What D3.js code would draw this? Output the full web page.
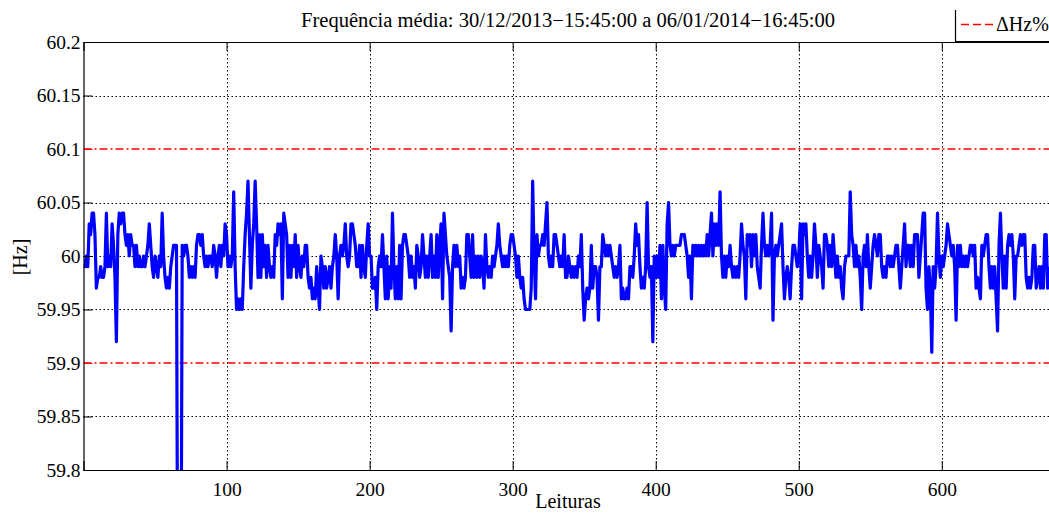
<!DOCTYPE html>
<html>
<head>
<meta charset="utf-8">
<script src="https://cdn.jsdelivr.net/npm/d3@7"></script>
<style>
  html, body { margin: 0; padding: 0; background: #fff; }
  svg { display: block; }
  text { font-family: "Liberation Serif", "DejaVu Serif", serif; fill: #000; }
</style>
</head>
<body>
<svg id="chart" width="1049" height="514"></svg>
<script>
// ---------------- DATA ----------------
const titleText = "Frequência média: 30/12/2013\u221215:45:00 a 06/01/2014\u221216:45:00";
const xLabel = "Leituras";
const yLabel = "[Hz]";
const legendLabel = "\u0394Hz%";
const xTicks = [100, 200, 300, 400, 500, 600];
const yTicks = [59.8, 59.85, 59.9, 59.95, 60, 60.05, 60.1, 60.15, 60.2];
const yTickLabels = ["59.8", "59.85", "59.9", "59.95", "60", "60.05", "60.1", "60.15", "60.2"];
const limitLines = [59.9, 60.1];
const xDomain = [0, 676];
const yDomain = [59.8, 60.2];
// Frequency readings [Hz], one per reading (index = reading number)
const freq = [
59.99,59.99,60,59.99,60.03,60.02,60.04,60.04,60.02,59.97,59.98,
59.98,59.99,59.98,59.98,59.99,60.04,59.99,60,59.99,60.03,
60.01,59.98,59.92,60.02,60.04,60.03,60.04,60.04,60.02,60.01,
60.02,60,60.02,60.01,60.01,59.99,60.01,59.99,60,59.99,
59.99,60,59.99,60,60.01,60.03,60.01,59.99,59.98,60,
59.99,59.98,60,59.99,60.04,60,59.98,59.97,59.98,59.97,
59.99,60,60.01,60.01,60.01,59.6,59.6,59.6,60.01,60,
60.01,60.01,60,59.98,59.99,59.98,59.99,59.98,60.01,60.02,
60.02,60.01,60.02,60,59.99,60,59.99,60,60,59.99,
60.01,60,59.98,60,60.01,59.99,60.01,60,60.03,60.02,
59.99,60,59.99,60,60.06,59.99,59.95,59.96,59.95,59.96,
59.95,59.99,60.02,60.04,60.07,60.02,59.97,60.01,60.03,60.07,
60.03,59.98,60.02,59.98,60.02,59.99,60.01,59.98,60.01,59.99,
59.98,59.99,59.98,60.02,60.01,60.03,60.02,60.03,59.96,60.04,
60.03,60.02,59.98,60.01,59.98,60.01,59.99,60.02,59.98,60.01,
59.99,59.98,60,59.99,60.01,60.01,59.98,59.97,59.98,59.96,
59.97,59.96,59.99,59.97,59.95,60,59.99,59.97,59.99,59.97,
59.98,59.99,59.97,59.99,60,60.02,60,59.96,60,60.01,
60,60.01,60.03,60,59.99,60,60.03,60.03,60.02,60.01,
59.99,59.99,60.01,59.98,60.01,59.99,59.98,60.01,60.03,60,
60,59.97,59.97,59.98,59.95,59.99,60,59.99,60.02,59.99,
59.96,60,59.96,59.99,59.97,60.04,59.99,59.96,59.99,59.96,
60.01,59.96,60.01,60.02,60.02,60.01,60,59.98,60,59.98,
59.99,59.97,60.01,60,59.98,59.99,60.02,60,59.98,60,
59.98,60,60.02,59.98,60,59.98,60.02,59.98,60.01,60.03,
59.96,60.04,60.02,60,59.99,59.98,59.93,59.99,60.01,59.99,
60.01,59.99,60,59.97,59.98,59.97,59.98,60.02,60.02,60,
59.98,60.02,59.98,60,59.98,60,59.98,60,59.99,59.97,
60.02,59.99,59.98,59.99,59.98,60,59.99,60,60.01,60.03,
60.01,60,59.99,60,59.99,60,59.99,60.01,60.02,60.02,
60.01,60,59.98,60,59.98,59.97,59.98,59.96,59.95,59.95,
59.95,59.95,59.97,60.07,60,59.96,60.02,60,60.01,60.01,
60.02,60.01,60.03,60.05,60,59.99,60,59.99,60.02,60.02,
60.01,60,59.99,60,59.99,60.02,59.98,59.98,60,59.99,
59.98,59.99,59.98,59.99,59.98,60,59.99,60.02,59.97,59.94,
59.96,59.97,59.96,59.97,60.01,59.97,59.99,59.99,59.98,59.94,
59.99,59.99,60.02,60.01,60,60.01,60,60.01,60,59.99,
59.98,59.99,59.98,59.99,60.01,59.96,59.97,59.96,59.96,59.97,
59.96,59.99,59.99,59.98,60,60.03,60.01,60.02,59.99,59.97,
59.98,59.97,59.99,60.05,59.99,59.98,59.99,59.92,60,59.98,
60,59.98,60.01,59.96,60.01,59.97,59.95,60.03,60.05,60.01,
60,60.01,60,60.01,60.01,60.01,60.01,60.02,60.02,60.02,
60.01,60,59.98,60,59.96,60.01,60,60.01,60,60.01,
60,60.01,60,60.01,60,60.02,60,60.02,60.04,60,
60.03,60.01,60.03,60.01,60.06,60,59.98,60,59.98,60,
59.99,60.01,59.99,59.98,59.99,59.98,59.99,59.98,60,60.03,
60.01,60,59.96,60.02,60.01,60.02,59.99,60.02,60,60.02,
59.99,59.98,59.97,60.01,60.04,60.01,60,60.01,60,60.01,
60.04,59.94,60,60.01,60,60.01,60.02,60.03,59.99,59.96,
59.98,59.99,59.98,59.96,59.99,60.01,60.01,60,59.99,60,
60.03,59.96,60.03,60.02,60.03,60,59.98,60,59.98,60,
60.03,60.01,59.98,60.01,60,59.99,59.97,60.02,60.02,60.01,
59.99,60.01,59.99,60.02,60,59.98,60,59.98,59.99,59.97,
59.96,59.99,60,60,60,60.06,60.02,60.01,59.99,60.01,
59.99,60,59.98,59.95,60,60.01,59.99,60.02,59.99,59.97,
59.99,60.01,60.02,60.01,60,60.02,60.02,59.99,59.98,59.99,
59.98,60,60,59.99,60,59.99,60,60.01,60.01,59.99,
59.97,59.99,60.01,60.03,59.99,60.01,60.01,59.99,60.01,59.99,
60.02,60.02,60.02,59.98,60,60.02,60.04,60.04,59.97,59.95,
59.99,59.97,59.91,59.99,59.97,59.99,60.04,60,59.98,60,
59.99,60,60.01,60.03,60.02,60.01,60,60.01,59.99,59.94,
60.01,59.99,60.01,59.99,60,59.99,60,59.99,60,60.01,
60.01,60,60.01,59.97,59.98,59.97,59.96,60.01,60,60.01,
60.02,60.02,59.99,59.97,59.99,59.97,59.99,59.96,59.93,60.01,
60.04,60,59.97,60,59.97,60.01,60.02,60.01,60.02,60,
59.96,60,60,60.01,60.02,60.01,60.02,60.02,59.98,59.97,
59.98,59.97,59.98,60.01,60.01,59.97,59.98,59.99,59.97,59.99,
59.97,60.02,60.02,59.97,59.99
];

// ---------------- LAYOUT ----------------
const svg = d3.select("#chart");
const plot = { left: 83.5, right: 1050.5, top: 42, bottom: 470 };

const x = d3.scaleLinear().domain(xDomain).range([plot.left, plot.right]);
const y = d3.scaleLinear().domain(yDomain).range([plot.bottom, plot.top]);

svg.append("defs").append("clipPath").attr("id", "clip")
  .append("rect")
  .attr("x", plot.left).attr("y", plot.top)
  .attr("width", plot.right - plot.left).attr("height", plot.bottom - plot.top);

// Grid (dotted)
const grid = svg.append("g");
grid.selectAll(".gx").data(xTicks).join("line")
  .attr("x1", d => Math.round(x(d)) + 0.5).attr("x2", d => Math.round(x(d)) + 0.5)
  .attr("y1", plot.top).attr("y2", plot.bottom)
  .attr("stroke", "#000").attr("stroke-width", 1)
  .attr("stroke-dasharray", "1.5,2.5");
grid.selectAll(".gy").data(yTicks.filter(v => !limitLines.some(l => Math.abs(l - v) < 1e-9) && v > yDomain[0] && v < yDomain[1])).join("line")
  .attr("x1", plot.left).attr("x2", plot.right)
  .attr("y1", d => Math.round(y(d)) + 0.5).attr("y2", d => Math.round(y(d)) + 0.5)
  .attr("stroke", "#000").attr("stroke-width", 1)
  .attr("stroke-dasharray", "1.5,2.5");

// Limit lines (red dash-dot)
svg.append("g").attr("class", "limits").selectAll("line").data(limitLines).join("line")
  .attr("x1", plot.left).attr("x2", plot.right)
  .attr("y1", d => Math.round(y(d)))
  .attr("y2", d => Math.round(y(d)))
  .style("stroke", "rgb(255,0,0)")
  .style("stroke-width", "1.6px")
  .style("stroke-dasharray", "8,3,2,3");

// Data line
const line = d3.line().x((d, i) => x(i)).y(d => y(d));
svg.append("path")
  .datum(freq)
  .attr("clip-path", "url(#clip)")
  .attr("d", line)
  .attr("fill", "none")
  .attr("stroke", "#0000ff")
  .attr("stroke-width", 3.2)
  .attr("stroke-linejoin", "round");

// Axes
const xAxisB = d3.axisBottom(x).tickValues(xTicks).tickSize(-9).tickPadding(12).tickFormat(d3.format("d"));
const gxB = svg.append("g").attr("transform", `translate(0,${plot.bottom})`).call(xAxisB);
const xAxisT = d3.axisTop(x).tickValues(xTicks).tickSize(-9).tickFormat("");
const gxT = svg.append("g").attr("transform", `translate(0,${plot.top})`).call(xAxisT);
const yAxisL = d3.axisLeft(y).tickValues(yTicks).tickSize(-9).tickPadding(4)
  .tickFormat((d, i) => yTickLabels[i]);
const gyL = svg.append("g").attr("transform", `translate(${plot.left},0)`).call(yAxisL);

[gxB, gxT, gyL].forEach(g => {
  g.select(".domain").attr("stroke", "#000").attr("stroke-width", 1.2);
  g.selectAll(".tick line").attr("stroke", "#000").attr("stroke-width", 1);
  g.selectAll("text").style("font-family", "'Liberation Serif', serif").style("font-size", "19.5px").attr("fill", "#000");
});
// left-axis ticks at the limit values take the red colour of the limit lines
gyL.selectAll(".tick line").filter(d => limitLines.some(l => Math.abs(l - d) < 1e-9)).attr("stroke", "#ff0000");
gyL.selectAll("text").attr("x", -3);
gxB.selectAll("text").attr("dy", "0.71em");

// Title
svg.append("text")
  .attr("x", 568).attr("y", 27)
  .attr("text-anchor", "middle")
  .style("font-size", "20px")
  .attr("textLength", 534).attr("lengthAdjust", "spacingAndGlyphs")
  .text(titleText);

// Axis labels
svg.append("text")
  .attr("x", 568).attr("y", 508)
  .attr("text-anchor", "middle")
  .style("font-size", "20px")
  .text(xLabel);
svg.append("text")
  .attr("transform", "translate(27,257) rotate(-90)")
  .attr("text-anchor", "middle")
  .style("font-size", "20px")
  .text(yLabel);

// Legend
const lg = svg.append("g");
lg.append("line").attr("x1", 955.5).attr("x2", 955.5).attr("y1", 10).attr("y2", plot.top)
  .attr("stroke", "#000").attr("stroke-width", 1.2);
lg.append("line").attr("x1", 955).attr("x2", 1049).attr("y1", plot.top).attr("y2", plot.top)
  .attr("stroke", "#000").attr("stroke-width", 2);
lg.append("line").attr("x1", 961).attr("x2", 994).attr("y1", 24.5).attr("y2", 24.5)
  .style("stroke", "rgb(255,0,0)").style("stroke-width", "1.3px").style("stroke-dasharray", "8,4");
lg.append("text").attr("x", 996).attr("y", 31).style("font-size", "20px").text(legendLabel);
</script>
</body>
</html>
